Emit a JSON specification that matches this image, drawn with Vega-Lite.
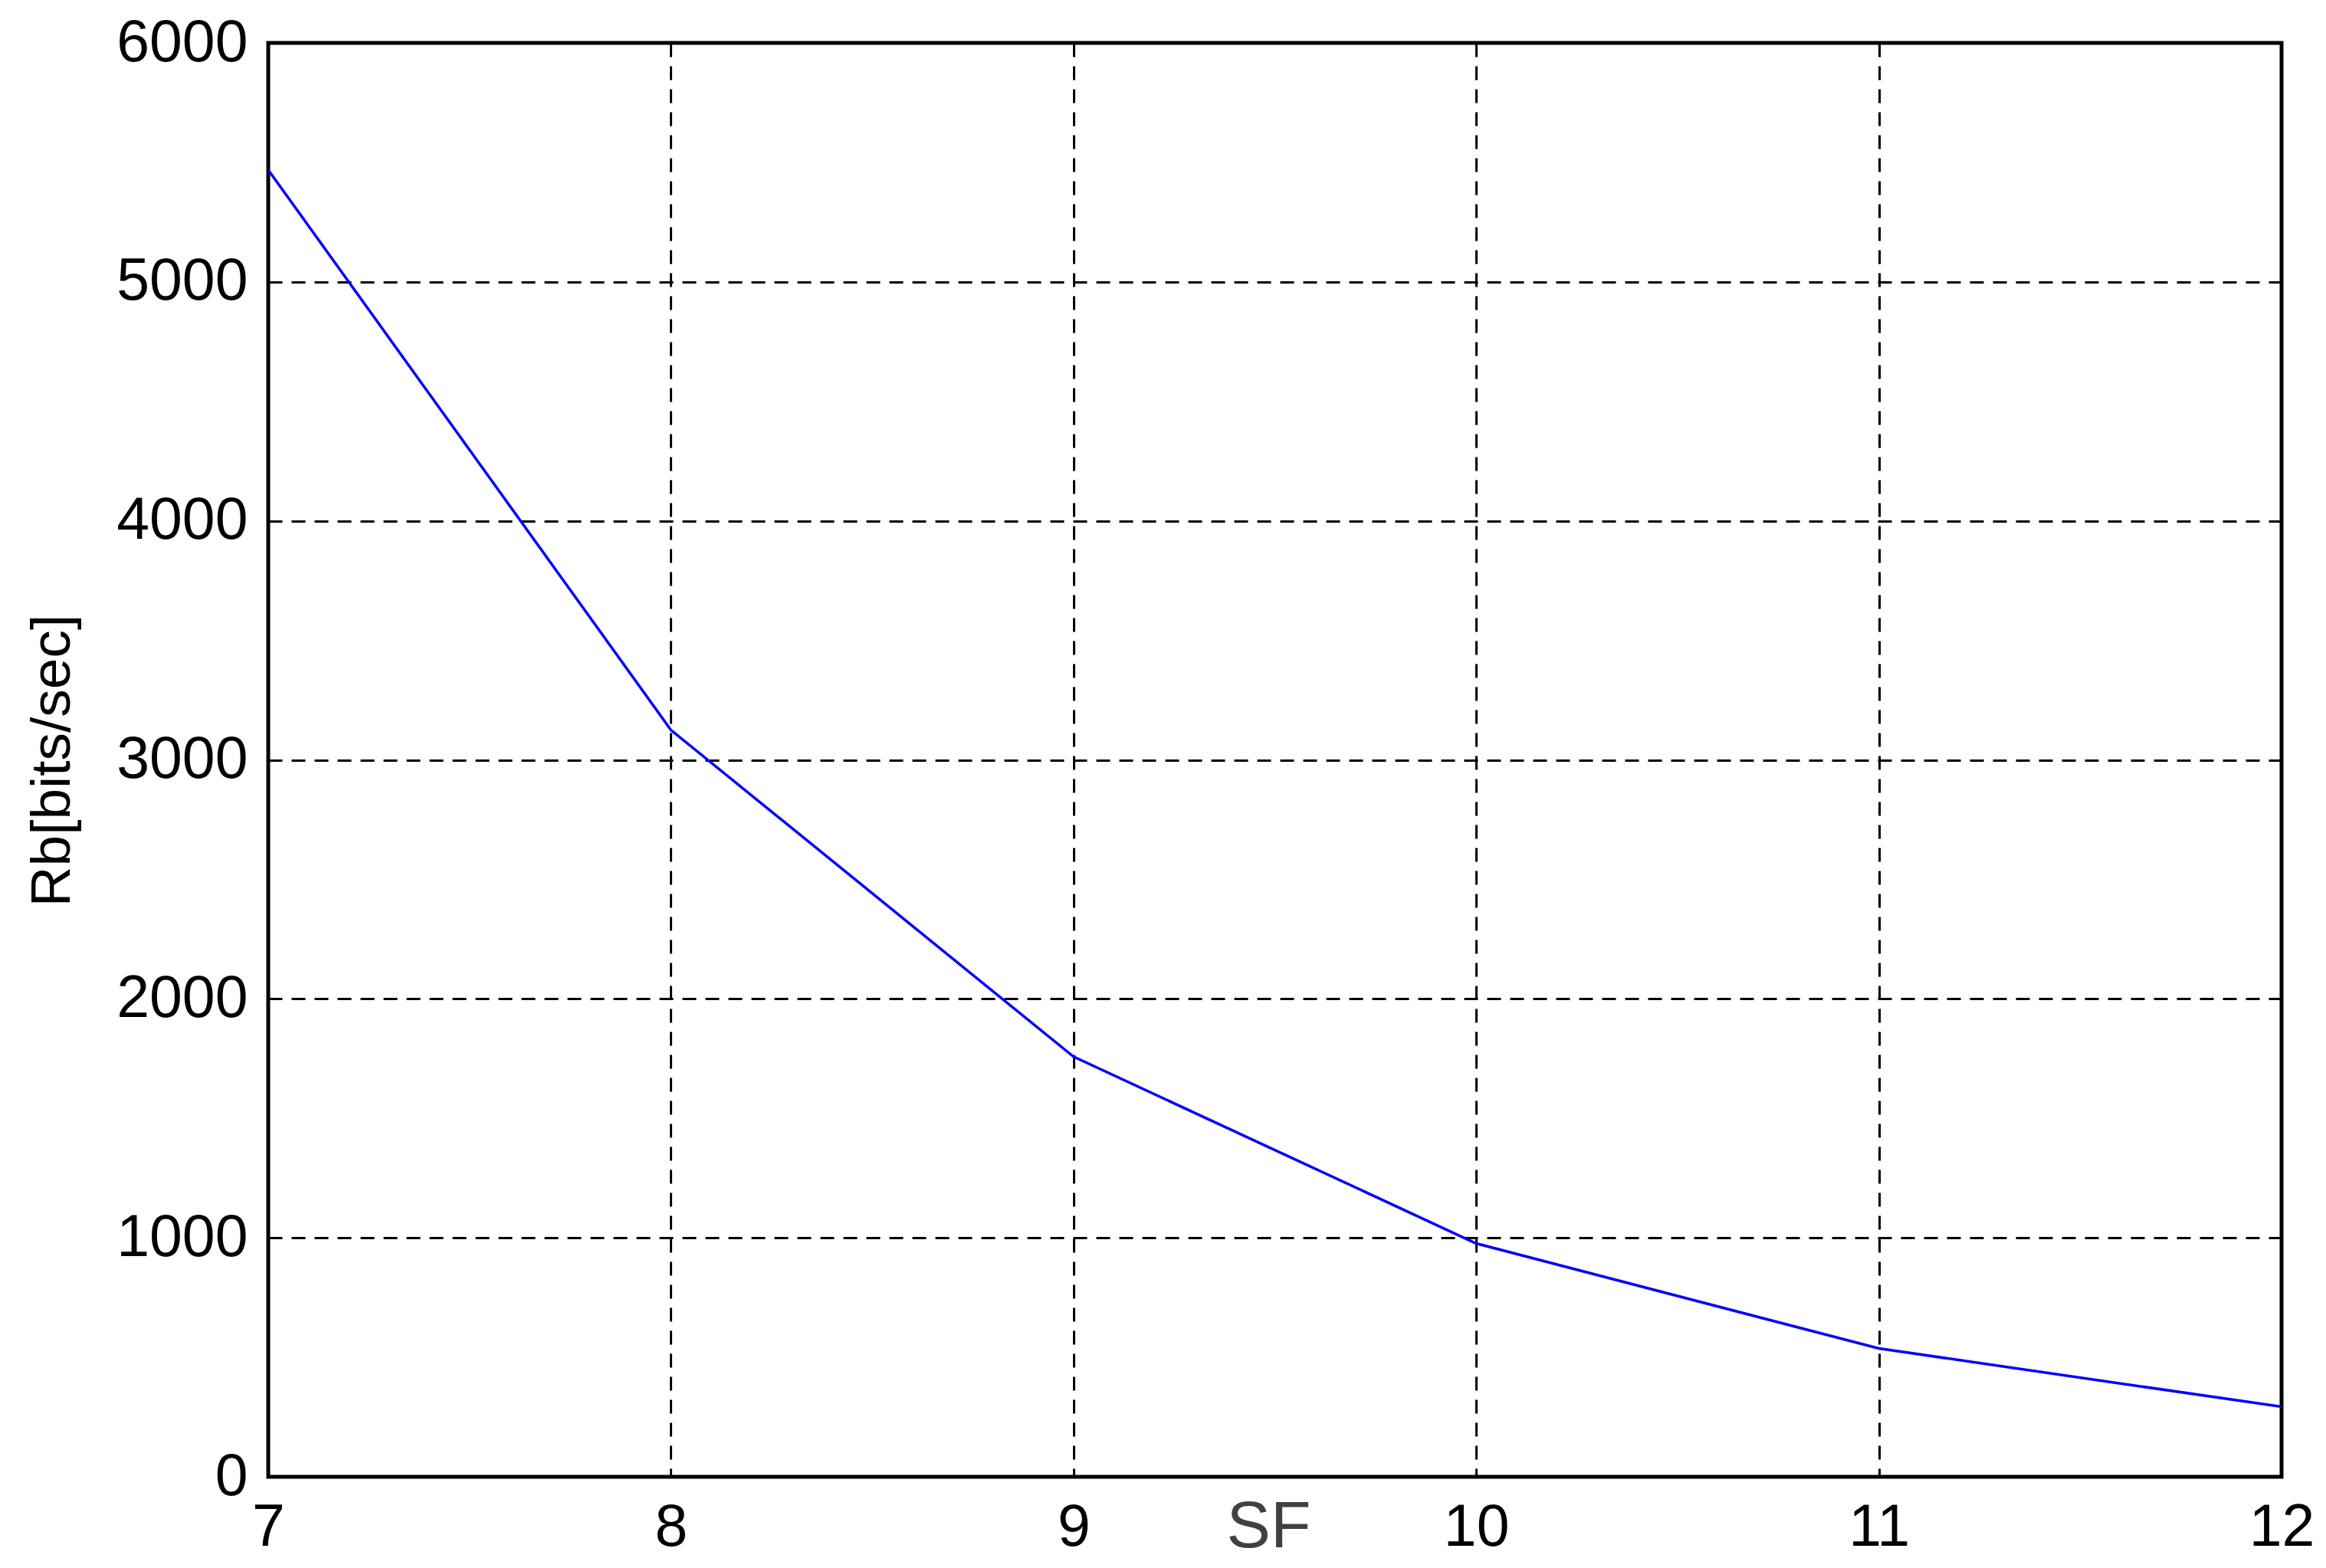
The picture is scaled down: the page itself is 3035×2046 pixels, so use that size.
{
  "$schema": "https://vega.github.io/schema/vega-lite/v6.json",
  "autosize": "none",
  "width": 2627,
  "height": 1871,
  "padding": {"left": 350, "top": 56, "right": 58, "bottom": 119},
  "background": "white",
  "config": {
    "view": {"stroke": "black", "strokeWidth": 5},
    "font": "Liberation Sans"
  },
  "data": {
    "values": [
      {"SF": 7, "Rb": 5468.75},
      {"SF": 8, "Rb": 3125},
      {"SF": 9, "Rb": 1757.81},
      {"SF": 10, "Rb": 976.56},
      {"SF": 11, "Rb": 537.11},
      {"SF": 12, "Rb": 292.97}
    ]
  },
  "mark": {"type": "line", "color": "#0000ff", "strokeWidth": 3.5, "clip": true},
  "encoding": {
    "x": {
      "field": "SF",
      "type": "quantitative",
      "scale": {"domain": [7, 12], "nice": false, "zero": false},
      "axis": {
        "values": [7, 8, 9, 10, 11, 12],
        "format": "d",
        "title": "SF",
        "titleFontSize": 86,
        "titleFontWeight": "normal",
        "titleColor": "#404040",
        "titleX": 1305,
        "titleY": 65,
        "titleBaseline": "middle",
        "titleAlign": "center",
        "labelFontSize": 77,
        "labelColor": "black",
        "labelPadding": 28,
        "labelFlush": false,
        "labelLimit": 0,
        "tickSize": 0,
        "domain": false,
        "grid": true,
        "gridColor": "black",
        "gridOpacity": 1,
        "gridWidth": 3,
        "gridDash": [18, 12]
      }
    },
    "y": {
      "field": "Rb",
      "type": "quantitative",
      "scale": {"domain": [0, 6000], "nice": false},
      "axis": {
        "values": [0, 1000, 2000, 3000, 4000, 5000, 6000],
        "format": "d",
        "title": "Rb[bits/sec]",
        "titleFontSize": 73,
        "titleFontWeight": "normal",
        "titleColor": "black",
        "titleX": -282,
        "titleY": 936,
        "titleAngle": -90,
        "titleBaseline": "middle",
        "titleAlign": "center",
        "titleLimit": 0,
        "labelFontSize": 77,
        "labelColor": "black",
        "labelPadding": 27,
        "labelFlush": false,
        "labelLimit": 0,
        "tickSize": 0,
        "domain": false,
        "grid": true,
        "gridColor": "black",
        "gridOpacity": 1,
        "gridWidth": 3,
        "gridDash": [18, 12]
      }
    }
  }
}
